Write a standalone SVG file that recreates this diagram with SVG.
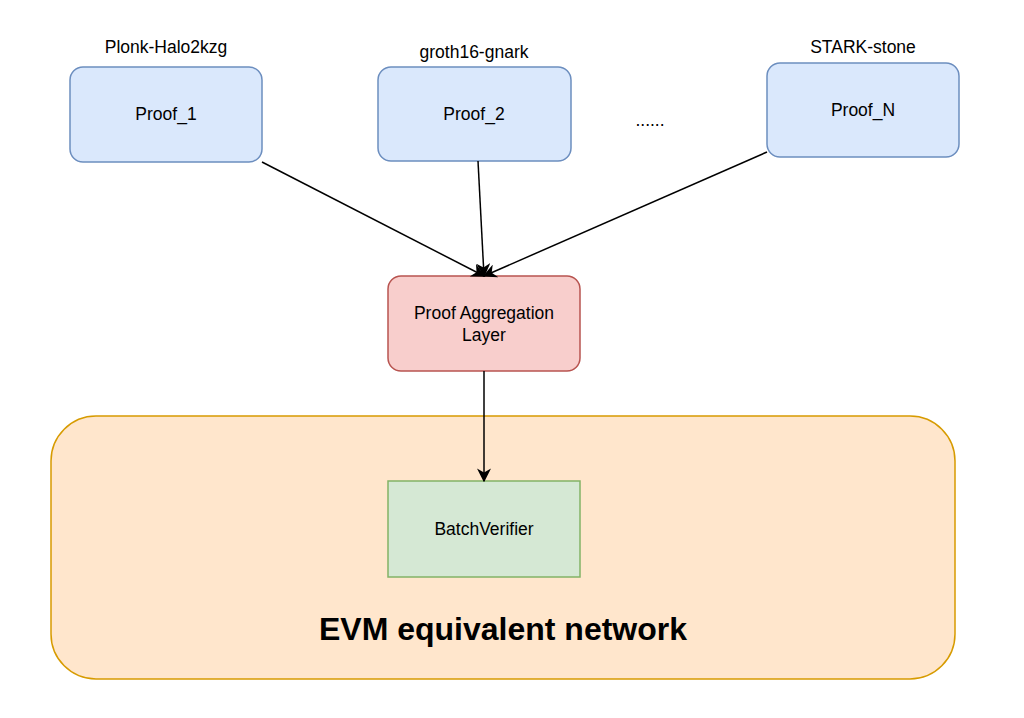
<svg xmlns="http://www.w3.org/2000/svg" width="1024" height="718" viewBox="0 0 1024 718">
<style>
text{font-family:"Liberation Sans",Arial,sans-serif;fill:#000;text-anchor:middle}
.lbl{font-size:17.5px}
.proof{fill:#dae8fc;stroke:#6c8ebf;stroke-width:1.5}
.edge{stroke:#000;stroke-width:1.5;fill:none}
</style>
<defs>
<marker id="arr" viewBox="0 0 10 10" refX="9" refY="5" markerWidth="14" markerHeight="14" markerUnits="userSpaceOnUse" orient="auto">
<path d="M0,0 L10,5 L0,10 L3,5 Z" fill="#000"/>
</marker>
</defs>
<rect width="1024" height="718" fill="#fff"/>
<g id="evm-network">
<rect x="51" y="416" width="904" height="263" rx="45" fill="#ffe6cc" stroke="#d79b00" stroke-width="1.5"/>
<text x="503" y="640" style="font-size:32px;font-weight:bold">EVM equivalent network</text>
</g>
<g id="proof1">
<text class="lbl" x="166" y="53">Plonk-Halo2kzg</text>
<rect class="proof" x="70" y="67" width="192" height="95" rx="13"/>
<text class="lbl" x="166" y="120">Proof_1</text>
</g>
<g id="proof2">
<text class="lbl" x="474" y="58">groth16-gnark</text>
<rect class="proof" x="378" y="67" width="193" height="94" rx="13"/>
<text class="lbl" x="474" y="120">Proof_2</text>
</g>
<g id="dots">
<text class="lbl" x="650" y="126">......</text>
</g>
<g id="proofN">
<text class="lbl" x="863" y="53">STARK-stone</text>
<rect class="proof" x="767" y="63" width="192" height="94" rx="13"/>
<text class="lbl" x="863" y="116">Proof_N</text>
</g>
<g id="aggregation">
<rect x="388" y="276" width="192" height="95" rx="13" fill="#f8cecc" stroke="#b85450" stroke-width="1.5"/>
<text class="lbl" x="484" y="319">Proof Aggregation</text>
<text class="lbl" x="484" y="341">Layer</text>
</g>
<g id="batchverifier">
<rect x="388" y="481" width="192" height="96" fill="#d5e8d4" stroke="#82b366" stroke-width="1.5"/>
<text class="lbl" x="484" y="535">BatchVerifier</text>
</g>
<g id="connectors">
<line class="edge" x1="262" y1="162" x2="484" y2="276" marker-end="url(#arr)"/>
<line class="edge" x1="478" y1="161" x2="484" y2="276" marker-end="url(#arr)"/>
<line class="edge" x1="767" y1="152" x2="484" y2="276" marker-end="url(#arr)"/>
<line class="edge" x1="484" y1="371" x2="484" y2="481" marker-end="url(#arr)"/>
</g>
</svg>
